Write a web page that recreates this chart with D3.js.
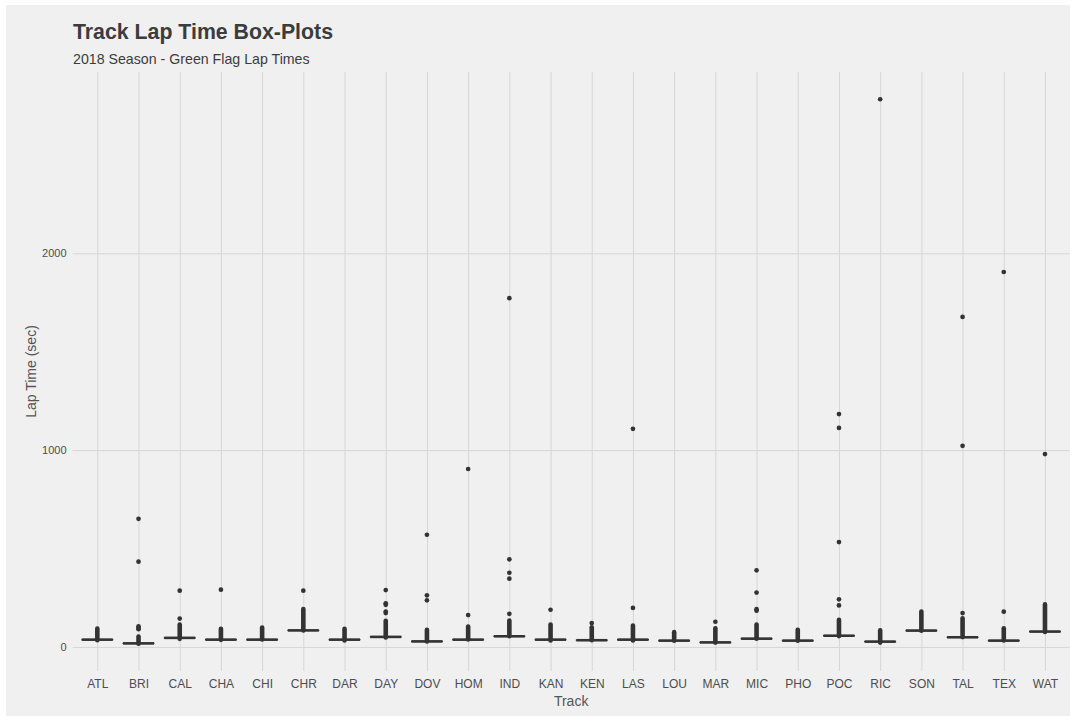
<!DOCTYPE html>
<html>
<head>
<meta charset="utf-8">
<script src="https://cdn.jsdelivr.net/npm/d3@7"></script>
<style>
  html, body { margin: 0; padding: 0; background: #ffffff; }
  svg { display: block; }
  text { font-family: "Liberation Sans", Arial, sans-serif; }
</style>
</head>
<body>
<svg id="chart" width="1076" height="722"></svg>
<script>
// ---- data (seconds) ----
const tracks = ["ATL","BRI","CAL","CHA","CHI","CHR","DAR","DAY","DOV","HOM","IND","KAN",
                "KEN","LAS","LOU","MAR","MIC","PHO","POC","RIC","SON","TAL","TEX","WAT"];
const medians = [37, 18, 46, 37, 37, 84, 37, 51, 28, 37, 54, 37,
                 34, 37, 32, 23, 42, 32, 57, 27, 83, 49, 32, 78];
const q1s     = [36, 17, 45, 36, 36, 83, 36, 50, 27, 36, 53, 36,
                 33, 36, 31, 22, 41, 31, 56, 26, 82, 48, 31, 77];
const q3s     = [38, 19, 47, 38, 38, 85, 38, 52, 29, 38, 55, 38,
                 35, 38, 33, 24, 43, 33, 58, 28, 84, 50, 33, 79];
// dense columns of overlapping outlier points (lowest / highest point)
const denseLow  = [34, 16, 41, 36, 38, 84, 33, 48, 28, 38, 54, 33,
                   34, 33, 31, 22, 42, 31, 55, 22, 82, 50, 33, 76];
const denseHigh = [93, 53, 114, 92, 99, 193, 92, 133, 87, 104, 134, 114,
                   100, 109, 75, 95, 114, 87, 138, 84, 180, 146, 95, 216];
// isolated outliers
const outliers = [
  [],                          // ATL
  [90, 97, 104, 433, 651],     // BRI
  [144, 286],                  // CAL
  [291],                       // CHA
  [],                          // CHI
  [286],                       // CHR
  [],                          // DAR
  [172, 180, 214, 222, 289],   // DAY
  [237, 262, 570],             // DOV
  [162, 904],                  // HOM
  [168, 347, 377, 445, 1772],  // IND
  [189],                       // KAN
  [121],                       // KEN
  [198, 1108],                 // LAS
  [],                          // LOU
  [128],                       // MAR
  [184, 192, 276, 389],        // MIC
  [],                          // PHO
  [211, 242, 533, 1113, 1183], // POC
  [2783],                      // RIC
  [],                          // SON
  [172, 1022, 1677],           // TAL
  [179, 1905],                 // TEX
  [980]                        // WAT
];
const yTicks = [0, 1000, 2000];

const titleText = "Track Lap Time Box-Plots";
const subtitleText = "2018 Season - Green Flag Lap Times";
const xTitle = "Track";
const yTitle = "Lap Time (sec)";

// ---- layout ----
const W = 1076, H = 722;
const panel = {left: 72.6, right: 1069.7, top: 72, bottom: 671};
const ink = "#333333";
const bg = "#F0F0F0";
const grid = "#D6D6D6";

const svg = d3.select("#chart");
svg.append("rect").attr("x", 6).attr("y", 5).attr("width", W - 12).attr("height", H - 11)
   .attr("fill", bg);

const x = d3.scalePoint().domain(tracks).range([panel.left, panel.right]).padding(0.6);

const allVals = [].concat(denseLow, denseHigh, q1s, q3s, ...outliers);
const vmin = d3.min(allVals), vmax = d3.max(allVals);
const R = vmax - vmin;
const y = d3.scaleLinear().domain([vmin - 0.05 * R, vmax + 0.05 * R])
            .range([panel.bottom, panel.top]);

// gridlines
const gY = svg.append("g")
  .attr("transform", `translate(${panel.left},0)`)
  .call(d3.axisLeft(y).tickValues(yTicks).tickSize(-(panel.right - panel.left)).tickPadding(6).tickFormat(d3.format("d")));
gY.select(".domain").remove();
gY.selectAll(".tick line").attr("stroke", grid).attr("stroke-width", 1);
gY.selectAll(".tick text").attr("fill", "#4D4D4D").style("font-size", "11px")
  .style("font-family", "'Liberation Sans', Arial, sans-serif");

const gX = svg.append("g")
  .attr("transform", `translate(0,${panel.bottom})`)
  .call(d3.axisBottom(x).tickSize(-(panel.bottom - panel.top)).tickPadding(8));
gX.select(".domain").remove();
gX.selectAll(".tick line").attr("stroke", grid).attr("stroke-width", 1);
gX.selectAll(".tick text").attr("fill", "#4D4D4D").style("font-size", "12px")
  .style("font-family", "'Liberation Sans', Arial, sans-serif");

// boxplots
const boxW = x.step() * 0.75;
const rows = tracks.map((t, i) => ({t, i}));
const g = svg.append("g");

// dense outlier columns
g.selectAll("line.dense").data(rows).join("line")
  .attr("class", "dense")
  .attr("x1", d => x(d.t)).attr("x2", d => x(d.t))
  .attr("y1", d => y(denseLow[d.i])).attr("y2", d => y(denseHigh[d.i]))
  .attr("stroke", ink).attr("stroke-width", 4.6).attr("stroke-linecap", "round");

// isolated outliers
const pts = [];
tracks.forEach((t, i) => outliers[i].forEach(v => pts.push({t, v})));
g.selectAll("circle.out").data(pts).join("circle")
  .attr("class", "out")
  .attr("cx", d => x(d.t)).attr("cy", d => y(d.v)).attr("r", 2.35)
  .attr("fill", ink);

// boxes
g.selectAll("rect.box").data(rows).join("rect")
  .attr("class", "box")
  .attr("x", d => x(d.t) - boxW / 2).attr("width", boxW)
  .attr("y", d => y(q3s[d.i])).attr("height", d => Math.max(0, y(q1s[d.i]) - y(q3s[d.i])))
  .attr("fill", "#ffffff").attr("stroke", ink).attr("stroke-width", 1);

// medians
g.selectAll("line.med").data(rows).join("line")
  .attr("class", "med")
  .attr("x1", d => x(d.t) - boxW / 2).attr("x2", d => x(d.t) + boxW / 2)
  .attr("y1", d => y(medians[d.i])).attr("y2", d => y(medians[d.i]))
  .attr("stroke", ink).attr("stroke-width", 2.6);

// titles
svg.append("text").attr("x", 73).attr("y", 38.5).text(titleText)
  .attr("fill", "#3C3C3C").style("font-size", "21.3px").style("font-weight", "bold");
svg.append("text").attr("x", 73).attr("y", 63.5).text(subtitleText)
  .attr("fill", "#3C3C3C").style("font-size", "14.2px");

svg.append("text").attr("x", (panel.left + panel.right) / 2).attr("y", 706)
  .attr("text-anchor", "middle").text(xTitle)
  .attr("fill", "#555555").style("font-size", "14px");
svg.append("text")
  .attr("transform", `translate(36,${(panel.top + panel.bottom) / 2}) rotate(-90)`)
  .attr("text-anchor", "middle").text(yTitle)
  .attr("fill", "#555555").style("font-size", "14px");
</script>
</body>
</html>
